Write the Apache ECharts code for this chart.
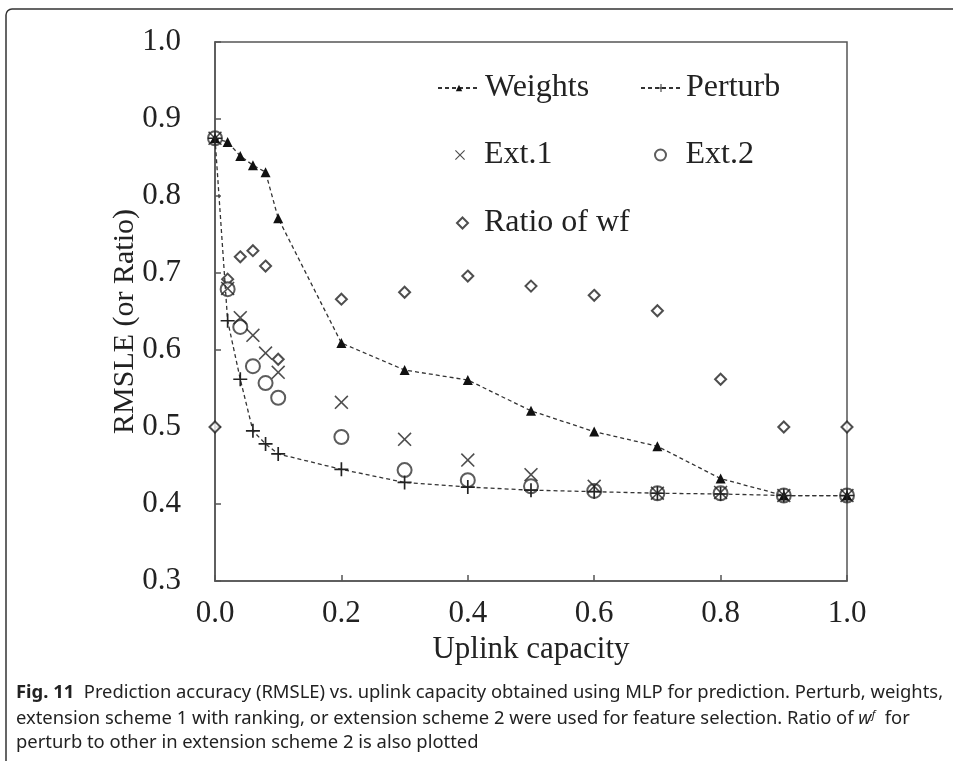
<!DOCTYPE html>
<html>
<head>
<meta charset="utf-8">
<script src="https://cdn.jsdelivr.net/npm/echarts@6/dist/echarts.min.js"></script>
<style>
  html, body { margin: 0; padding: 0; background: #fff; }
</style>
</head>
<body>
<div id="main" style="width: 953px; height: 761px"></div>
<script>
// uplink capacity values on the x axis
var capacity = [0, 0.02, 0.04, 0.06, 0.08, 0.1, 0.2, 0.3, 0.4, 0.5, 0.6, 0.7, 0.8, 0.9, 1.0];

var weights = [0.875, 0.870, 0.852, 0.840, 0.831, 0.771, 0.609, 0.574, 0.561, 0.521, 0.494, 0.475, 0.433, 0.411, 0.411];
var perturb = [0.875, 0.638, 0.562, 0.495, 0.478, 0.465, 0.445, 0.428, 0.422, 0.418, 0.416, 0.414, 0.413, 0.411, 0.411];
var ext1 = [0.875, 0.680, 0.642, 0.619, 0.596, 0.571, 0.532, 0.484, 0.457, 0.438, 0.423, 0.414, 0.415, 0.411, 0.411];
var ext2 = [0.875, 0.679, 0.630, 0.579, 0.557, 0.538, 0.487, 0.444, 0.431, 0.423, 0.417, 0.414, 0.414, 0.411, 0.411];
var ratioWf = [0.500, 0.692, 0.721, 0.729, 0.709, 0.588, 0.666, 0.675, 0.696, 0.683, 0.671, 0.651, 0.562, 0.500, 0.500];

var xTicks = [0, 0.2, 0.4, 0.6, 0.8, 1.0];
var yTicks = [0.3, 0.4, 0.5, 0.6, 0.7, 0.8, 0.9, 1.0];

function pairs(ys) {
  return ys.map(function (y, i) { return [capacity[i], y]; });
}

var serif = '"Liberation Serif", "DejaVu Serif", serif';
var sans = '"Noto Sans", sans-serif';
var ink = '#222';

// thin plus and cross shapes
var plusPath = 'path://M4.4,0h1.2v4.4h4.4v1.2h-4.4v4.4h-1.2v-4.4h-4.4v-1.2h4.4z';
var crossPath = 'path://M0.8,0L5,4.2L9.2,0L10,0.8L5.8,5L10,9.2L9.2,10L5,5.8L0.8,10L0,9.2L4.2,5L0,0.8z';

function legendAt(name, left, top, w, h, gap) {
  return {
    data: [name],
    left: left,
    top: top,
    itemWidth: w,
    itemHeight: h,
    itemGap: 0,
    selectedMode: false,
    textStyle: { fontFamily: serif, fontSize: 32, color: ink, padding: [0, 0, 0, gap] }
  };
}

var chart = echarts.init(document.getElementById('main'));
chart.setOption({
  animation: false,
  backgroundColor: '#fff',
  grid: {
    left: 215, top: 42, right: 106, bottom: 180,
    show: true, borderColor: '#555', borderWidth: 1.5
  },
  legend: [
    legendAt('Weights', 432, 67, 42, 8, 0),
    legendAt('Perturb', 635, 67, 40, 10, 0),
    legendAt('Ext.1', 450, 134, 12, 10, 13),
    legendAt('Ext.2', 649, 134, 12, 11, 14),
    legendAt('Ratio of wf', 451, 202, 11, 11, 11)
  ],
  xAxis: {
    type: 'value',
    min: 0, max: 1, interval: 0.2,
    name: 'Uplink capacity',
    nameLocation: 'middle',
    nameGap: 52,
    nameTextStyle: { fontFamily: serif, fontSize: 31, color: ink },
    axisLine: { lineStyle: { color: '#555', width: 1.5 } },
    axisTick: { inside: true, length: 6, lineStyle: { color: '#555', width: 1.5 }, customValues: xTicks },
    axisLabel: {
      fontFamily: serif, fontSize: 31, color: ink, margin: 17,
      customValues: xTicks,
      formatter: function (v) { return v.toFixed(1); }
    },
    splitLine: { show: false }
  },
  yAxis: {
    type: 'value',
    min: 0.3, max: 1.0, interval: 0.1,
    name: 'RMSLE (or Ratio)',
    nameLocation: 'middle',
    nameGap: 75,
    nameMoveOverlap: false,
    nameTextStyle: { fontFamily: serif, fontSize: 30, color: ink, padding: [0, 20, 0, 0] },
    axisLine: { show: true, lineStyle: { color: '#555', width: 1.5 } },
    axisTick: { show: true, inside: true, length: 6, lineStyle: { color: '#555', width: 1.5 }, customValues: yTicks },
    axisLabel: {
      fontFamily: serif, fontSize: 31, color: ink, margin: 34,
      customValues: yTicks,
      formatter: function (v) { return v.toFixed(1); }
    },
    splitLine: { show: false }
  },
  series: [
    {
      name: 'Ratio of wf',
      type: 'scatter',
      data: pairs(ratioWf),
      symbol: 'emptyDiamond',
      symbolSize: 11,
      itemStyle: { color: '#222', borderColor: '#222', borderWidth: 1.6 }
    },
    {
      name: 'Ext.2',
      type: 'scatter',
      data: pairs(ext2),
      symbol: 'emptyCircle',
      symbolSize: 14,
      itemStyle: { color: '#333', borderColor: '#333', borderWidth: 1.4 }
    },
    {
      name: 'Ext.1',
      type: 'scatter',
      data: pairs(ext1),
      symbol: crossPath,
      symbolSize: 14,
      itemStyle: { color: '#222' }
    },
    {
      name: 'Weights',
      type: 'line',
      data: pairs(weights),
      symbol: 'triangle',
      symbolSize: 10,
      showSymbol: true,
      lineStyle: { color: '#333', width: 1.3, type: [4, 3] },
      itemStyle: { color: '#111' }
    },
    {
      name: 'Perturb',
      type: 'line',
      data: pairs(perturb),
      symbol: plusPath,
      symbolSize: 14,
      showSymbol: true,
      lineStyle: { color: '#333', width: 1.3, type: [4, 3] },
      itemStyle: { color: '#222' }
    }
  ],
  graphic: [
    {
      type: 'rect',
      shape: { x: 6, y: 9, width: 1000, height: 800, r: [6, 0, 0, 0] },
      style: { fill: null, stroke: '#333', lineWidth: 1.5 },
      silent: true
    },
    {
      type: 'text',
      left: 16, top: 684,
      style: {
        text: '{b|Fig. 11}  Prediction accuracy (RMSLE) vs. uplink capacity obtained using MLP for prediction. Perturb, weights,',
        font: '18.4px ' + sans,
        fill: '#222',
        rich: { b: { fontWeight: 'bold', fontSize: 18.4, fontFamily: sans } }
      }
    },
    {
      type: 'text',
      left: 16, top: 709,
      style: {
        text: 'extension scheme 1 with ranking, or extension scheme 2 were used for feature selection. Ratio of {i|w}{s|f}  for',
        font: '18.4px ' + sans,
        fill: '#222',
        rich: {
          i: { fontStyle: 'italic', fontSize: 18.4, fontFamily: sans },
          s: { fontStyle: 'italic', fontSize: 11, verticalAlign: 'top', padding: [0, 0, 9, 0], fontFamily: sans }
        }
      }
    },
    {
      type: 'text',
      left: 16, top: 734,
      style: {
        text: 'perturb to other in extension scheme 2 is also plotted',
        font: '18.4px ' + sans,
        fill: '#222'
      }
    }
  ]
});
</script>
</body>
</html>
